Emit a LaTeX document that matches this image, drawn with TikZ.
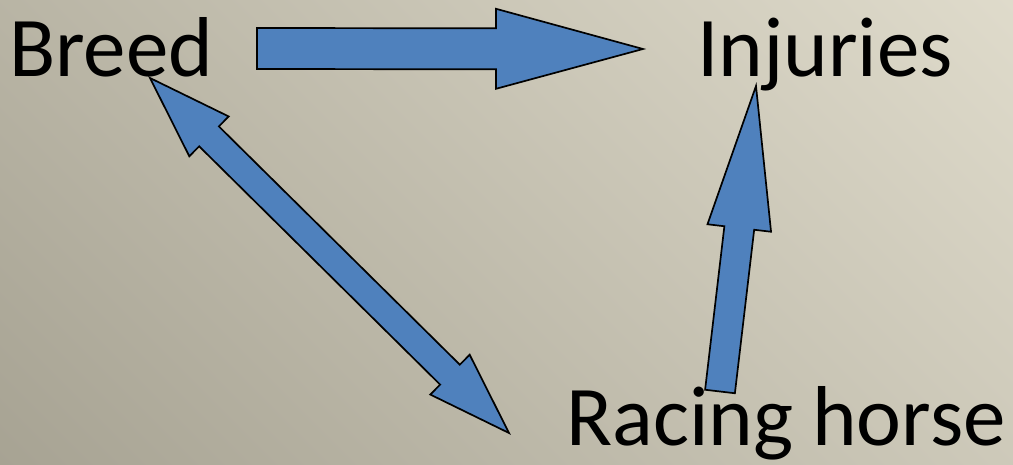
\documentclass[tikz,border=0pt]{standalone}
\usepackage{fontspec}
\setmainfont{Carlito}
\usetikzlibrary{calc}

% paper-like backdrop: darker at the lower left, lighter at the upper right
\pgfdeclarefunctionalshading{paperbg}{\pgfpoint{0bp}{0bp}}{\pgfpoint{100bp}{100bp}}{}{
  25 sub 0.00138 mul exch 25 sub 0.003012 mul add 0.655 add
  dup dup 0.078 sub exch 0.016 sub exch
}

\definecolor{arrowblue}{RGB}{79,129,189}

\tikzset{
  label text/.style={inner sep=0pt, anchor=base west, font=\fontsize{85}{100}\selectfont},
  block arrow/.style={fill=arrowblue, draw=black, line width=1.7pt, line join=miter},
}

% single block arrow: tail, tip, shaft half width, head half width, head length, prefix
\newcommand\singleblock[6]{%
  \path ($(#2)!#5!(#1)$) coordinate (#6h);
  \draw[block arrow]
    ($(#1)!#3!90:(#2)$) -- ($(#6h)!#3!90:(#2)$) -- ($(#6h)!#4!90:(#2)$) -- (#2)
    -- ($(#6h)!#4!-90:(#2)$) -- ($(#6h)!#3!-90:(#2)$) -- ($(#1)!#3!-90:(#2)$) -- cycle;
}
% double-headed block arrow between two tips
\newcommand\doubleblock[6]{%
  \path ($(#1)!#5!(#2)$) coordinate (#6a) ($(#2)!#5!(#1)$) coordinate (#6b);
  \draw[block arrow]
    (#1) -- ($(#6a)!#4!90:(#2)$) -- ($(#6a)!#3!90:(#2)$) -- ($(#6b)!#3!-90:(#1)$)
    -- ($(#6b)!#4!-90:(#1)$) -- (#2) -- ($(#6b)!#4!90:(#1)$) -- ($(#6b)!#3!90:(#1)$)
    -- ($(#6a)!#3!-90:(#2)$) -- ($(#6a)!#4!-90:(#2)$) -- cycle;
}

\begin{document}
\begin{tikzpicture}[x=1pt, y=-1pt]
  \useasboundingbox (0,0) rectangle (1013,465);
  \shade[shading=paperbg] (0,0) rectangle (1013,465);

  \node[label text] (breed) at (9,77) {Breed};
  \node[label text] (injuries) at (697,77) {Injuries};
  \node[label text] (racing) at (566,445) {Racing horse};

  % connector ends
  \coordinate (bi-tail) at (257,48.5);
  \coordinate (bi-tip) at (643,49);
  \coordinate (ri-tail) at (720,391.5);
  \coordinate (ri-tip) at (756,86);
  \coordinate (br-top) at (150,78);
  \coordinate (br-bot) at (509,433);

  \singleblock{bi-tail}{bi-tip}{20.5pt}{40pt}{147pt}{bi}
  \singleblock{ri-tail}{ri-tip}{15pt}{32pt}{143pt}{ri}
  \doubleblock{br-top}{br-bot}{14pt}{28pt}{83pt}{br}
\end{tikzpicture}
\end{document}
